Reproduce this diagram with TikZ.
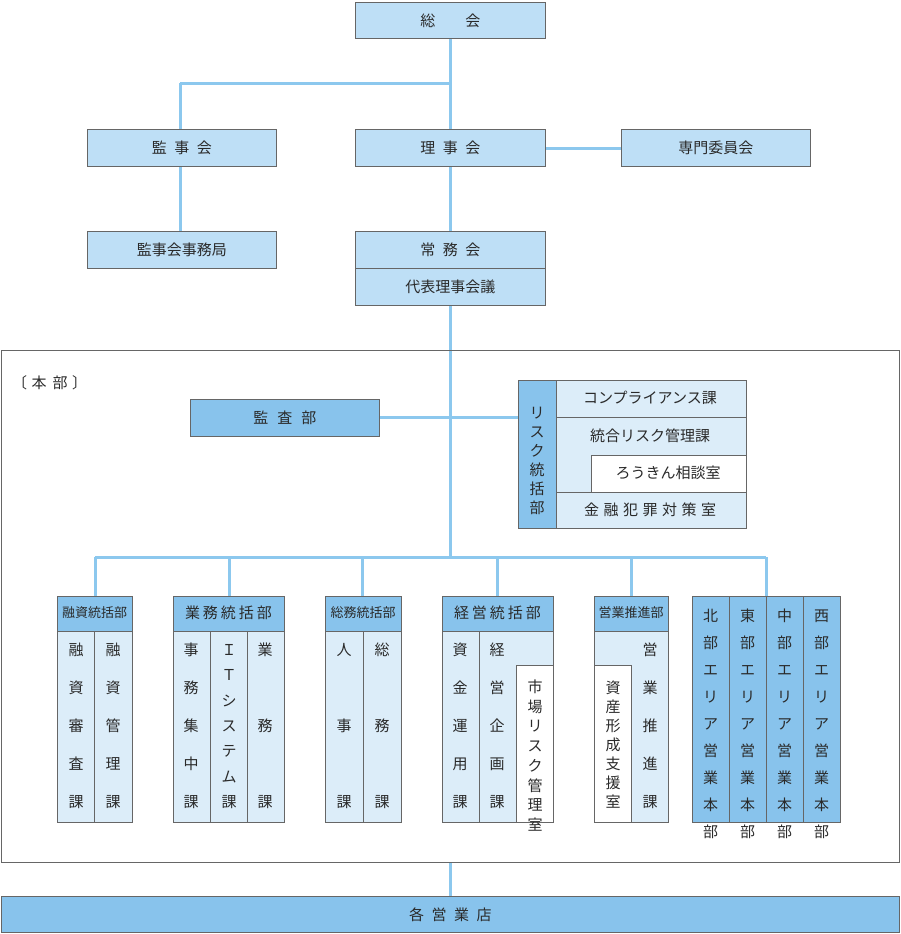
\documentclass[tikz,border=0pt]{standalone}
\usepackage{fontspec}
\setmainfont{Noto Sans CJK JP}
\begin{document}
\begin{tikzpicture}[x=1pt,y=-1pt,
  lc/.style={draw=none},
  conn/.style={draw=lineblue,line width=3pt},
  bx/.style={draw=bord,line width=0.8pt,fill=lightb},
  hd/.style={draw=bord,line width=0.8pt,fill=darkb},
  sub/.style={draw=bord,line width=0.8pt,fill=paleb},
  wt/.style={draw=bord,line width=0.8pt,fill=white},
  tx/.style={font=\fontsize{15}{15}\selectfont,text=txt,inner sep=0pt},
  sm/.style={font=\fontsize{13}{13}\selectfont,text=txt,inner sep=0pt}]
\definecolor{lineblue}{HTML}{8CC8EE}
\definecolor{bord}{HTML}{666666}
\definecolor{lightb}{HTML}{BEDFF6}
\definecolor{darkb}{HTML}{88C3EC}
\definecolor{paleb}{HTML}{DCEDF9}
\definecolor{txt}{HTML}{2A2A2A}
\useasboundingbox (0,0) rectangle (900,934);
\newcommand\vtext[4]{\foreach \c [count=\i from 0] in {#4} \node[tx] at (#1,{#2+\i*#3}) {\c};}
% connectors
\coordinate (top) at (450,38);
\coordinate (j1) at (450,83);
\coordinate (j2) at (180,83);
\draw[conn] (450,38) -- (450,129);
\draw[conn] (180,83) -- (450,83);
\draw[conn] (180,83) -- (180,129);
\draw[conn] (545,148) -- (621,148);
\draw[conn] (180,166) -- (180,231);
\draw[conn] (450,166) -- (450,231);
\draw[conn] (450,305) -- (450,557);
\draw[conn] (379,417) -- (518,417);
\draw[conn] (95,557) -- (766,557);
\foreach \x in {95,229,362,497,631,766} \draw[conn] (\x,557) -- (\x,596);
\draw[conn] (450,862) -- (450,896);
% top
\node[bx,minimum width=190,minimum height=36,anchor=north west,tx] (soukai) at (355,2) {総\hspace{2em}会};
\node[bx,minimum width=189,minimum height=37,anchor=north west,tx] (kanji) at (87,129) {監\hspace{0.5em}事\hspace{0.5em}会};
\node[bx,minimum width=190,minimum height=37,anchor=north west,tx] (riji) at (355,129) {理\hspace{0.5em}事\hspace{0.5em}会};
\node[bx,minimum width=189,minimum height=37,anchor=north west,tx] (senmon) at (621,129) {専門委員会};
\node[bx,minimum width=189,minimum height=37,anchor=north west,tx] (kjk) at (87,231) {監事会事務局};
\node[bx,minimum width=190,minimum height=37,anchor=north west,tx] (joumu) at (355,231) {常\hspace{0.5em}務\hspace{0.5em}会};
\node[bx,minimum width=190,minimum height=37,anchor=north west,tx] (daihyo) at (355,268) {代表理事会議};
% honbu
\draw[bord,line width=1pt,fill=none] (1,350) rectangle (899,862);
\node[tx,anchor=west] (hb) at (12,383) {〔\hspace{0.3em}本\hspace{0.4em}部\hspace{0.3em}〕};
\node[hd,minimum width=189,minimum height=37,anchor=north west,tx] (kansa) at (190,399) {監\hspace{0.6em}査\hspace{0.6em}部};
% risk
\draw[sub] (556,380) rectangle (746,528);
\draw[hd] (518,380) rectangle (556,528);
\draw[bord,line width=0.8pt] (556,417) -- (746,417) (556,492) -- (746,492);
\draw[wt] (591,455) rectangle (746,492);
\node[tx] at (650,398) {コンプライアンス課};
\node[tx] at (650,436) {統合リスク管理課};
\node[tx] at (668,473) {ろうきん相談室};
\node[tx] at (650,510) {金\hspace{0.3em}融\hspace{0.3em}犯\hspace{0.3em}罪\hspace{0.3em}対\hspace{0.3em}策\hspace{0.3em}室};
\vtext{537}{413}{19}{リ,ス,ク,統,括,部}
% bottom groups
\newcommand\grp[4]{% x1,x2,label,style
  \draw[sub] (#1,631) rectangle (#2,822);
  \draw[hd] (#1,596) rectangle (#2,631);
  \node[#4] at ({(#1+#2)/2},613) {#3};}
\grp{57}{132}{融資統括部}{sm}
\draw[bord,line width=0.8pt] (94,631) -- (94,822);
\vtext{76}{650}{38}{融,資,審,査,課}
\vtext{113}{650}{38}{融,資,管,理,課}
\grp{173}{284}{業\hspace{0.2em}務\hspace{0.2em}統\hspace{0.2em}括\hspace{0.2em}部}{tx}
\draw[bord,line width=0.8pt] (210,631) -- (210,822) (247,631) -- (247,822);
\vtext{191}{650}{38}{事,務,集,中,課}
\vtext{229}{650}{25.3}{Ｉ,Ｔ,シ,ス,テ,ム,課}
\vtext{265}{650}{76}{業,務,課}
\grp{325}{401}{総務統括部}{sm}
\draw[bord,line width=0.8pt] (363,631) -- (363,822);
\vtext{344}{650}{76}{人,事,課}
\vtext{382}{650}{76}{総,務,課}
\grp{442}{553}{経\hspace{0.2em}営\hspace{0.2em}統\hspace{0.2em}括\hspace{0.2em}部}{tx}
\draw[bord,line width=0.8pt] (479,631) -- (479,822);
\draw[wt] (516,665) rectangle (553,822);
\vtext{460}{650}{38}{資,金,運,用,課}
\vtext{497}{650}{38}{経,営,企,画,課}
\vtext{535}{687}{19.7}{市,場,リ,ス,ク,管,理,室}
\grp{594}{668}{営業推進部}{sm}
\draw[wt] (594,665) rectangle (631,822);
\vtext{650}{650}{38}{営,業,推,進,課}
\vtext{613}{688}{19}{資,産,形,成,支,援,室}
% area
\foreach \x/\n in {692/北,729/東,766/中,803/西}{
  \draw[hd] (\x,596) rectangle (\x+37,822);
  \vtext{\x+18.5}{616}{27}{\n,部,エ,リ,ア,営,業,本,部}
}
% branch
\node[hd,minimum width=898,minimum height=36,anchor=north west,tx] (eigyo) at (1,896) {各\hspace{0.5em}営\hspace{0.5em}業\hspace{0.5em}店};
\end{tikzpicture}
\end{document}
